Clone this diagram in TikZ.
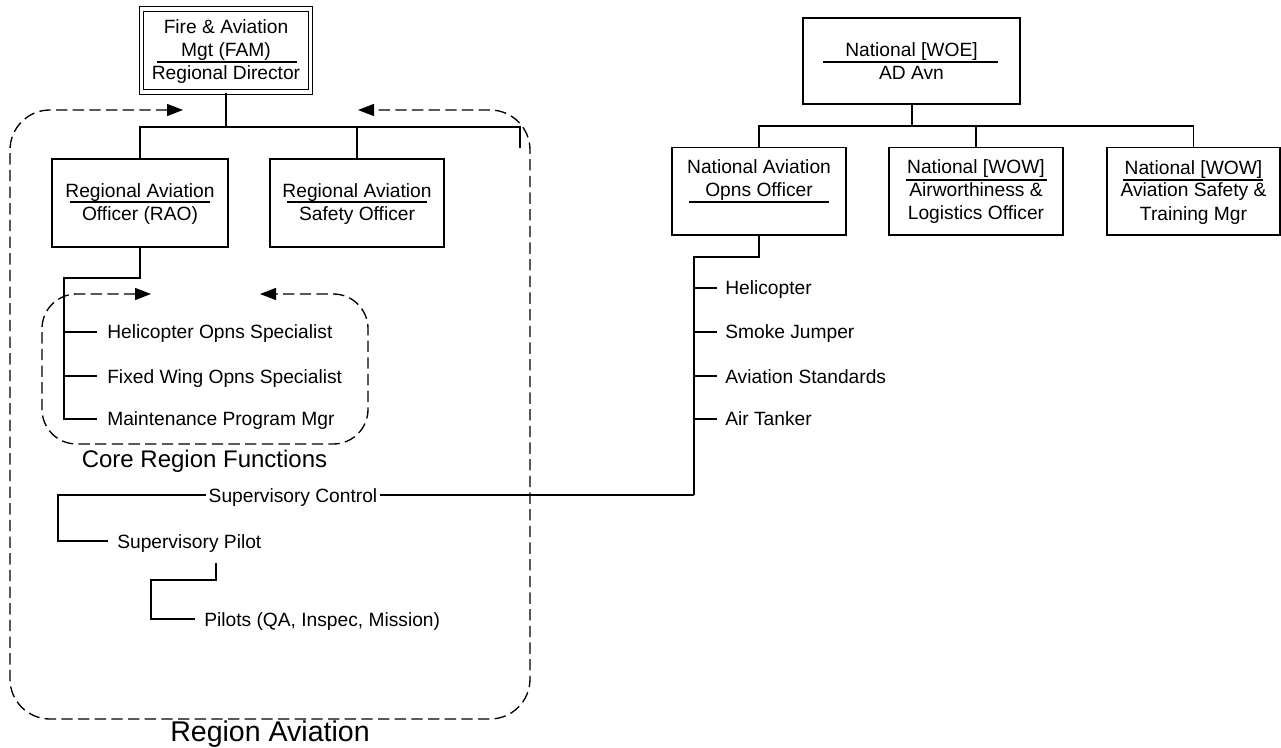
\documentclass[tikz,border=0pt]{standalone}
\usepackage{fontspec}
\setmainfont{Liberation Sans}
\usetikzlibrary{arrows.meta}

\begin{document}
\begin{tikzpicture}[
  x=0.75pt, y=-0.75pt,
  box/.style={draw, line width=1pt, inner sep=0pt, minimum width=130.5pt, minimum height=65.5pt},
  txt/.style={inner sep=0pt, text height=10.5pt, text depth=0pt, font=\fontsize{14.4pt}{17pt}\selectfont},
  lbl/.style={txt, anchor=west},
  rule/.style={line width=0.9pt},
  wire/.style={line width=1pt},
  stem/.style={line width=1.5pt},
  group/.style={line width=1pt, dash pattern=on 8.5pt off 4pt, rounded corners=#1,
    {Triangle[length=12pt,width=9pt]}-{Triangle[length=12pt,width=9pt]}},
]
\useasboundingbox (0,0) rectangle (1281,748);
\fill[white] (0,0) rectangle (1281,748);

% ---------- regional chain ----------
\node[box, double, line width=0.8pt, double distance=2.5pt,
      minimum width=127pt, minimum height=62.3pt] (fam) at (226,50.5) {};
\node[txt] (fam1) at (226,26.5) {Fire \& Aviation};
\node[txt] (fam2) at (226,49.5) {Mgt (FAM)};
\node[txt] (fam3) at (226,73) {Regional Director};
\draw[rule] (157,62) -- (297,62);

\node[box, minimum width=132pt, minimum height=66pt] (rao) at (140,203) {};
\node[txt] (rao1) at (140,191) {Regional Aviation};
\node[txt] (rao2) at (140,214) {Officer (RAO)};
\draw[rule] (70,202) -- (210,202);

\node[box, minimum height=66pt] (saf) at (357,203) {};
\node[txt] (saf1) at (357,191) {Regional Aviation};
\node[txt] (saf2) at (357,214) {Safety Officer};
\draw[rule] (287,202) -- (427,202);

\coordinate (bar) at (226,127);
\coordinate (barL) at (140,127);
\coordinate (barR) at (520,127);
\coordinate (stub) at (520,148);
\draw[stem] (fam.south) -- (bar);
\draw[wire] (rao.north) -- (barL) -- (barR) -- (stub);
\draw[wire] (saf.north) -- (saf.north |- barL);

% core functions under the RAO
\node[lbl] (hos) at (107,332) {Helicopter Opns Specialist};
\node[lbl] (fws) at (107,376) {Fixed Wing Opns Specialist};
\node[lbl] (mpm) at (107,419) {Maintenance Program Mgr};
\coordinate (rj) at (64,278);
\draw[stem] (rao.south) |- (rj) -- (rj |- mpm.west) -- ([xshift=-7.5pt]mpm.west);
\draw[wire] (rj |- hos.west) -- ([xshift=-7.5pt]hos.west);
\draw[wire] (rj |- fws.west) -- ([xshift=-7.5pt]fws.west);

\draw[group=26pt] (151,294) -- (42,294) -- (42,444) -- (368,444) -- (368,294) -- (260,294);
\node[inner sep=0pt, anchor=base, font=\fontsize{18pt}{21pt}\selectfont] (core) at (204.5,467) {Core Region Functions};

% supervisory line
\node[txt, inner xsep=1.5pt] (sc) at (293,495) {Supervisory Control};
\node[lbl] (sp) at (117,541) {Supervisory Pilot};
\node[lbl] (pl) at (204,619) {Pilots (QA, Inspec, Mission)};
\coordinate (sj) at (58,541);
\draw[wire] (sc.west) -| (sj) -- ([xshift=-6.75pt]sp.west);
\coordinate (pa) at (216,563);
\coordinate (pb) at (151,580);
\draw[wire] (pa) |- (pb) |- ([xshift=-6.75pt]pl.west);

\draw[group=30pt] (183,110) -- (10,110) -- (10,719) -- (530,719) -- (530,110) -- (358,110);
\node[inner sep=0pt, anchor=base, font=\fontsize{21.4pt}{25pt}\selectfont] (ra) at (270,741) {Region Aviation};

% ---------- national chain ----------
\node[box, minimum width=162.75pt, minimum height=64.5pt] (woe) at (911.5,61) {};
\node[txt] (woe1) at (911.5,50) {National [WOE]};
\node[txt] (woe2) at (911.5,73) {AD Avn};
\draw[rule] (823,62) -- (998,62);

\node[box] (opns) at (759,191.5) {};
\node[txt] (opns1) at (759,167) {National Aviation};
\node[txt] (opns2) at (759,190) {Opns Officer};
\draw[rule] (689,202) -- (829,202);

\node[box] (airw) at (976,191.5) {};
\node[txt] (airw1) at (976,167) {National [WOW]};
\node[txt] (airw2) at (976,190) {Airworthiness \&};
\node[txt] (airw3) at (976,213) {Logistics Officer};
\draw[rule] (906,180) -- (1047,180);

\node[box, minimum width=129.75pt] (trn) at (1193.5,191.5) {};
\node[txt] (trn1) at (1193.5,167.5) {National [WOW]};
\node[txt] (trn2) at (1193.5,190) {Aviation Safety \&};
\node[txt] (trn3) at (1193.5,214) {Training Mgr};
\draw[rule] (1123,180) -- (1263,180);

\coordinate (nbar) at (911.5,126);
\draw[stem] (woe.south) -- (nbar);
\draw[wire] (opns.north) -- (opns.north |- nbar) -- (trn.north |- nbar) -- (trn.north);
\draw[wire] (airw.north) -- (airw.north |- nbar);

\node[lbl] (heli) at (725,288) {Helicopter};
\node[lbl] (smj) at (725,332) {Smoke Jumper};
\node[lbl] (avs) at (725,376) {Aviation Standards};
\node[lbl] (atk) at (725,419) {Air Tanker};
\coordinate (nj) at (694,257);
\draw[stem] (opns.south) |- (nj) -- (nj |- sc.east);
\draw[wire] (nj |- sc.east) -- (sc.east);
\foreach \n in {heli,smj,avs,atk}
  \draw[wire] (nj |- \n.west) -- ([xshift=-6pt]\n.west);
\end{tikzpicture}
\end{document}
